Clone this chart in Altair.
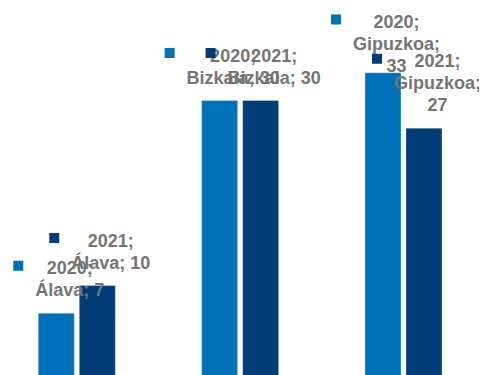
import altair as alt
import pandas as pd

categories = ["Álava", "Bizkaia", "Gipuzkoa"]
years = ["2020", "2021"]
values_2020 = [7, 30, 33]
values_2021 = [10, 30, 27]
colors = ["#0072BC", "#003D79"]
text_color = "#757575"

# Approximate Arial-bold advance widths (em) used to wrap labels like Excel does
GLYPH_W = {
    "0": .556, "1": .556, "2": .556, "3": .556, "4": .556, "5": .556, "6": .556,
    "7": .556, "8": .556, "9": .556, ";": .333, " ": .278, "Á": .722, "l": .278,
    "a": .556, "v": .556, "B": .722, "i": .278, "z": .5, "k": .556, "G": .778,
    "p": .611, "u": .611, "o": .611,
}
FS = 18


def text_width(s):
    return sum(GLYPH_W.get(ch, .556) for ch in s) * FS


def wrap(words, limit=96):
    lines, cur = [], ""
    for w in words:
        t = w if not cur else cur + " " + w
        if cur and text_width(t) > limit:
            lines.append(cur)
            cur = w
        else:
            cur = t
    lines.append(cur)
    return lines


rows = []
for i, c in enumerate(categories):
    for j, (yr, vals) in enumerate(zip(years, [values_2020, values_2021])):
        v = vals[i]
        lines = wrap([f"{yr};", f"{c};", str(v)])
        widest = max(text_width(l) for l in lines)
        bar_center = 18 + 41 * j
        rows.append(dict(cat=c, year=yr, value=v, lines=lines, nlines=len(lines),
                         key_dx=bar_center + 13.5 - widest / 2 - 17))
df = pd.DataFrame(rows)

yscale = alt.Scale(domain=[0, 40], nice=False, zero=True)
xenc = alt.X("cat:N", sort=categories, axis=None,
             scale=alt.Scale(paddingInner=0.5286, paddingOuter=0.206, align=0.45))
xoff_bar = alt.XOffset("year:N", sort=years,
                       scale=alt.Scale(type="band", paddingInner=0.122, paddingOuter=0))
xoff_lab = alt.XOffset("year:N", sort=years,
                       scale=alt.Scale(type="point", padding=0.439))
cenc = alt.Color("year:N", scale=alt.Scale(domain=years, range=colors), legend=None)

base = alt.Chart(df).transform_calculate(
    label_y="min(datum.value + (17 + (datum.nlines - 1) * 22) / 9.25, 37.84)"
).transform_calculate(
    key_y="datum.label_y + 8.5 / 9.25"
)

bars = base.mark_bar(stroke="#ffffff", strokeWidth=0.8, strokeOpacity=0.35).encode(
    x=xenc, xOffset=xoff_bar,
    y=alt.Y("value:Q", scale=yscale, axis=None),
    color=cenc,
)

labels = base.mark_text(
    align="center", baseline="alphabetic", dx=13.5, fontSize=FS,
    fontWeight="bold", font="Liberation Sans", color=text_color, lineHeight=22,
).encode(
    x=xenc, xOffset=xoff_lab,
    y=alt.Y("label_y:Q", scale=yscale, axis=None),
    text=alt.Text("lines:N"),
)

keys = base.mark_point(shape="square", filled=True, size=100, opacity=1).encode(
    x=xenc,
    xOffset=alt.XOffset("key_dx:Q", scale=alt.Scale(domain=[0, 100], range=[0, 100])),
    y=alt.Y("key_y:Q", scale=yscale, axis=None),
    color=cenc,
)

chart = alt.layer(bars, labels, keys).resolve_scale(
    xOffset="independent"
).properties(
    width=471, height=370, padding=0, autosize="none"
).configure_view(stroke=None)

chart.save("out.html", embed_options={"renderer": "svg", "actions": False})
